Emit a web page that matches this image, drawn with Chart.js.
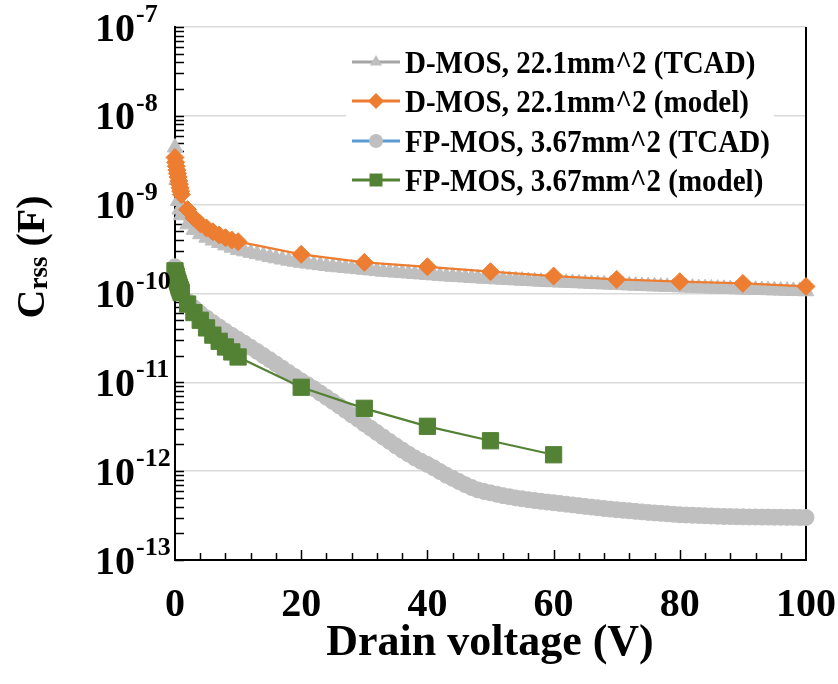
<!DOCTYPE html>
<html>
<head>
<meta charset="utf-8">
<title>Crss vs drain voltage</title>
<script src="https://cdn.jsdelivr.net/npm/chart.js@4.4.1/dist/chart.umd.min.js"></script>
<style>
  html, body { margin: 0; padding: 0; background: #fff; }
</style>
</head>
<body>
<canvas id="crssChart" width="838" height="684"></canvas>
<script>
// TCAD sweep (V)
const tcadVoltage = [0, 0.25, 0.5, 0.75, 1, 2, 3, 4, 5, 6, 7, 8, 9, 10,
  11, 12, 13, 14, 15, 16, 17, 18, 19, 20, 21, 22, 23, 24, 25, 26, 27, 28, 29, 30,
  31, 32, 33, 34, 35, 36, 37, 38, 39, 40, 41, 42, 43, 44, 45, 46, 47, 48, 49, 50,
  51, 52, 53, 54, 55, 56, 57, 58, 59, 60, 61, 62, 63, 64, 65, 66, 67, 68, 69, 70,
  71, 72, 73, 74, 75, 76, 77, 78, 79, 80, 81, 82, 83, 84, 85, 86, 87, 88, 89, 90,
  91, 92, 93, 94, 95, 96, 97, 98, 99, 100];

// D-MOS 22.1mm^2, TCAD (F)
const dmosTcad = [4.4e-9, 1.9e-9, 1.1e-9, 8.8e-10, 7.6e-10, 6.0e-10, 5.2e-10, 4.65e-10, 4.25e-10, 3.95e-10, 3.7e-10, 3.48e-10, 3.28e-10, 3.10e-10,
  2.98e-10, 2.87e-10, 2.77e-10, 2.67e-10, 2.57e-10, 2.49e-10, 2.41e-10, 2.34e-10, 2.28e-10, 2.22e-10,
  2.17e-10, 2.12e-10, 2.08e-10, 2.04e-10, 2.00e-10, 1.97e-10, 1.94e-10, 1.91e-10, 1.88e-10, 1.85e-10,
  1.82e-10, 1.79e-10, 1.76e-10, 1.74e-10, 1.72e-10, 1.70e-10, 1.68e-10, 1.66e-10, 1.64e-10, 1.62e-10,
  1.60e-10, 1.58e-10, 1.56e-10, 1.545e-10, 1.53e-10, 1.515e-10, 1.50e-10, 1.485e-10, 1.47e-10, 1.455e-10,
  1.443e-10, 1.431e-10, 1.419e-10, 1.407e-10, 1.395e-10, 1.383e-10, 1.371e-10, 1.36e-10, 1.35e-10, 1.34e-10,
  1.331e-10, 1.322e-10, 1.313e-10, 1.304e-10, 1.295e-10, 1.286e-10, 1.277e-10, 1.268e-10, 1.259e-10, 1.25e-10,
  1.242e-10, 1.234e-10, 1.226e-10, 1.218e-10, 1.21e-10, 1.203e-10, 1.196e-10, 1.189e-10, 1.182e-10, 1.175e-10,
  1.168e-10, 1.161e-10, 1.154e-10, 1.147e-10, 1.14e-10, 1.134e-10, 1.128e-10, 1.122e-10, 1.116e-10, 1.11e-10,
  1.105e-10, 1.1e-10, 1.095e-10, 1.09e-10, 1.085e-10, 1.08e-10, 1.075e-10, 1.07e-10, 1.065e-10, 1.06e-10];

// FP-MOS 3.67mm^2, TCAD (F)
const fpTcad = [2.0e-10, 1.55e-10, 1.3e-10, 1.13e-10, 1.02e-10, 8.2e-11, 6.9e-11, 6.0e-11, 5.3e-11, 4.7e-11, 4.2e-11, 3.75e-11, 3.38e-11, 3.05e-11,
  2.75e-11, 2.48e-11, 2.23e-11, 2.0e-11, 1.8e-11, 1.61e-11, 1.44e-11, 1.29e-11, 1.16e-11, 1.04e-11,
  9.4e-12, 8.5e-12, 7.6e-12, 6.8e-12, 6.1e-12, 5.45e-12, 4.85e-12, 4.3e-12, 3.85e-12, 3.42e-12,
  3.05e-12, 2.72e-12, 2.42e-12, 2.16e-12, 1.93e-12, 1.73e-12, 1.56e-12, 1.41e-12, 1.29e-12, 1.19e-12,
  1.09e-12, 9.9e-13, 9.0e-13, 8.3e-13, 7.65e-13, 7.05e-13, 6.55e-13, 6.15e-13, 5.9e-13, 5.7e-13,
  5.5e-13, 5.3e-13, 5.15e-13, 5.0e-13, 4.88e-13, 4.77e-13, 4.67e-13, 4.58e-13, 4.49e-13, 4.41e-13,
  4.33e-13, 4.25e-13, 4.17e-13, 4.09e-13, 4.01e-13, 3.94e-13, 3.87e-13, 3.8e-13, 3.74e-13, 3.68e-13,
  3.63e-13, 3.58e-13, 3.53e-13, 3.48e-13, 3.43e-13, 3.39e-13, 3.35e-13, 3.31e-13, 3.27e-13, 3.23e-13,
  3.21e-13, 3.19e-13, 3.17e-13, 3.15e-13, 3.13e-13, 3.11e-13, 3.09e-13, 3.08e-13, 3.07e-13, 3.06e-13,
  3.05e-13, 3.05e-13, 3.04e-13, 3.04e-13, 3.03e-13, 3.03e-13, 3.02e-13, 3.02e-13, 3.01e-13, 3.01e-13];

// model points (V)
const dmosModelVoltage = [0, 0.1, 0.2, 0.3, 0.4, 0.5, 0.6, 0.7, 0.8, 0.9, 1, 2, 3, 4, 5, 6, 7, 8, 9, 10,
  20, 30, 40, 50, 60, 70, 80, 90, 100];
const dmosModel = [3.4e-9, 3.0e-9, 2.7e-9, 2.45e-9, 2.25e-9, 2.05e-9, 1.85e-9, 1.7e-9, 1.55e-9, 1.42e-9, 1.3e-9,
  8.8e-10, 7.1e-10, 6.1e-10, 5.45e-10, 4.95e-10, 4.55e-10, 4.25e-10, 4.0e-10, 3.83e-10,
  2.76e-10, 2.24e-10, 2.0e-10, 1.76e-10, 1.57e-10, 1.44e-10, 1.36e-10, 1.30e-10, 1.20e-10];

const fpModelVoltage = [0, 0.1, 0.2, 0.3, 0.4, 0.5, 0.6, 0.7, 0.8, 0.9, 1, 2, 3, 4, 5, 6, 7, 8, 9, 10,
  20, 30, 40, 50, 60];
const fpModel = [1.8e-10, 1.65e-10, 1.55e-10, 1.45e-10, 1.37e-10, 1.3e-10, 1.23e-10, 1.17e-10, 1.12e-10, 1.07e-10, 1.02e-10,
  7.6e-11, 6.1e-11, 5.0e-11, 4.1e-11, 3.4e-11, 2.9e-11, 2.5e-11, 2.2e-11, 1.93e-11,
  8.8e-12, 5.1e-12, 3.2e-12, 2.2e-12, 1.53e-12];

const seriesNames = ['D-MOS, 22.1mm^2 (TCAD)', 'D-MOS, 22.1mm^2 (model)', 'FP-MOS, 3.67mm^2 (TCAD)', 'FP-MOS, 3.67mm^2 (model)'];
const xTickLabels = [0, 20, 40, 60, 80, 100];
const yExponents = [-7, -8, -9, -10, -11, -12, -13];

const FONT = '"Liberation Serif", "Times New Roman", serif';

function pts(xs, ys) {
  return xs.map((x, i) => ({ x: x, y: ys[i] }));
}

const datasets = [
  {
    label: seriesNames[0], data: pts(tcadVoltage, dmosTcad), order: 4,
    borderColor: '#A5A5A5', borderWidth: 2.25, backgroundColor: '#BFBFBF',
    pointStyle: 'triangle', pointRadius: 9, pointBackgroundColor: '#BFBFBF', pointBorderColor: '#BFBFBF', pointBorderWidth: 1,
    legendMarker: 'triangle', legendFill: '#BFBFBF'
  },
  {
    label: seriesNames[1], data: pts(dmosModelVoltage, dmosModel), order: 3,
    borderColor: '#ED7D31', borderWidth: 2.25, backgroundColor: '#ED7D31',
    pointStyle: 'rectRot', pointRadius: 9, pointBackgroundColor: '#ED7D31', pointBorderColor: '#ED7D31', pointBorderWidth: 1,
    legendMarker: 'diamond', legendFill: '#ED7D31'
  },
  {
    label: seriesNames[2], data: pts(tcadVoltage, fpTcad), order: 2,
    borderColor: '#5B9BD5', borderWidth: 2.25, backgroundColor: '#BFBFBF',
    pointStyle: 'circle', pointRadius: 8, pointBackgroundColor: '#BFBFBF', pointBorderColor: '#BFBFBF', pointBorderWidth: 1,
    legendMarker: 'circle', legendFill: '#BFBFBF'
  },
  {
    label: seriesNames[3], data: pts(fpModelVoltage, fpModel), order: 1,
    borderColor: '#548235', borderWidth: 2.25, backgroundColor: '#548235',
    pointStyle: 'rect', pointRadius: 11.5, pointBackgroundColor: '#548235', pointBorderColor: '#548235', pointBorderWidth: 1,
    legendMarker: 'square', legendFill: '#548235'
  }
];

function isDecade(v) {
  const l = Math.log10(v);
  return Math.abs(l - Math.round(l)) < 1e-6;
}

function drawMarker(ctx, type, x, y, s, color) {
  ctx.save();
  ctx.fillStyle = color;
  ctx.beginPath();
  if (type === 'triangle') {
    ctx.moveTo(x, y - s);
    ctx.lineTo(x + s * 0.866, y + s * 0.5);
    ctx.lineTo(x - s * 0.866, y + s * 0.5);
  } else if (type === 'diamond') {
    ctx.moveTo(x, y - s); ctx.lineTo(x + s, y); ctx.lineTo(x, y + s); ctx.lineTo(x - s, y);
  } else if (type === 'circle') {
    ctx.arc(x, y, s, 0, Math.PI * 2);
  } else {
    ctx.rect(x - s, y - s, 2 * s, 2 * s);
  }
  ctx.closePath();
  ctx.fill();
  ctx.restore();
}

// text slightly stretched vertically, like the source picture
function stretchedText(ctx, text, x, y, sy) {
  ctx.save();
  ctx.translate(x, y);
  ctx.scale(1, sy);
  ctx.fillText(text, 0, 0);
  ctx.restore();
}

const decorPlugin = {
  id: 'decor',
  beforeDatasetsDraw(chart) {
    const ctx = chart.ctx;
    const a = chart.chartArea;
    const xs = chart.scales.x, ys = chart.scales.y;
    ctx.save();
    ctx.strokeStyle = '#000';
    ctx.lineWidth = 1.5;
    // y minor/major ticks, inside
    for (let e = -13; e < -7; e++) {
      for (let m = 1; m <= 9; m++) {
        const py = Math.round(ys.getPixelForValue(m * Math.pow(10, e))) + 0.5;
        ctx.beginPath();
        ctx.moveTo(a.left, py);
        ctx.lineTo(a.left + 9, py);
        ctx.stroke();
      }
    }
    const ptop = Math.round(ys.getPixelForValue(1e-7)) + 0.5;
    ctx.beginPath(); ctx.moveTo(a.left, ptop); ctx.lineTo(a.left + 9, ptop); ctx.stroke();
    // x ticks every 4 V, inside
    for (let v = 4; v < 100; v += 4) {
      const px = Math.round(xs.getPixelForValue(v)) + 0.5;
      const len = (v % 20 === 0) ? 10 : 7;
      ctx.beginPath();
      ctx.moveTo(px, a.bottom);
      ctx.lineTo(px, a.bottom - len);
      ctx.stroke();
    }
    // right frame line
    ctx.lineWidth = 2;
    ctx.beginPath();
    ctx.moveTo(a.right, a.top);
    ctx.lineTo(a.right, a.bottom);
    ctx.stroke();
    ctx.restore();
  },
  afterDraw(chart) {
    const ctx = chart.ctx;
    const xs = chart.scales.x, ys = chart.scales.y;
    ctx.save();
    ctx.fillStyle = '#000';
    ctx.textBaseline = 'alphabetic';

    // y tick labels 10^e
    yExponents.forEach(e => {
      const py = ys.getPixelForValue(Math.pow(10, e));
      ctx.font = 'bold 40px ' + FONT;
      ctx.textAlign = 'left';
      ctx.fillText('10', 95, py + 13.5);
      const w = ctx.measureText('10').width;
      ctx.font = 'bold 26px ' + FONT;
      ctx.fillText(String(e), 95 + w + 1, py - 5);
    });

    // x tick labels
    ctx.font = 'bold 40px ' + FONT;
    ctx.textAlign = 'center';
    xTickLabels.forEach(v => {
      ctx.fillText(String(v), xs.getPixelForValue(v), 616);
    });

    // x title
    ctx.font = 'bold 44px ' + FONT;
    ctx.fillText('Drain voltage (V)', 490, 655);

    // y title: C rss (F)
    ctx.save();
    ctx.translate(44, 257);
    ctx.rotate(-Math.PI / 2);
    ctx.textAlign = 'left';
    ctx.font = 'bold 40px ' + FONT;
    const wC = ctx.measureText('C').width;
    const wF = ctx.measureText(' (F)').width;
    ctx.font = 'bold 27px ' + FONT;
    const wR = ctx.measureText('rss').width;
    const x0 = -(wC + wR + wF) / 2;
    ctx.font = 'bold 40px ' + FONT;
    ctx.fillText('C', x0, 0);
    ctx.font = 'bold 27px ' + FONT;
    ctx.fillText('rss', x0 + wC, 3);
    ctx.font = 'bold 40px ' + FONT;
    ctx.fillText(' (F)', x0 + wC + wR, 0);
    ctx.restore();

    // legend
    ctx.fillStyle = '#fff';
    ctx.fillRect(346, 43, 428, 157);
    const rowY = [62, 101, 141, 180];
    chart.data.datasets.forEach((ds, i) => {
      const y = rowY[i];
      ctx.strokeStyle = ds.borderColor;
      ctx.lineWidth = 3;
      ctx.beginPath();
      ctx.moveTo(352, y);
      ctx.lineTo(400, y);
      ctx.stroke();
      const size = ds.legendMarker === 'square' ? 6.5 : (ds.legendMarker === 'diamond' ? 8 : 7);
      drawMarker(ctx, ds.legendMarker, 376, y, size, ds.legendFill);
      ctx.fillStyle = '#000';
      ctx.font = 'bold 29px ' + FONT;
      ctx.textAlign = 'left';
      ctx.textBaseline = 'alphabetic';
      stretchedText(ctx, ds.label, 405, y + 11, 1.1);
    });
    ctx.restore();
  }
};

const chart = new Chart(document.getElementById('crssChart'), {
  type: 'line',
  data: { datasets: datasets },
  options: {
    responsive: false,
    animation: false,
    devicePixelRatio: 1,
    layout: { padding: { left: 175, right: 32, top: 27, bottom: 124 } },
    elements: { line: { tension: 0 } },
    datasets: { line: { clip: false } },
    plugins: { legend: { display: false }, tooltip: { enabled: false } },
    scales: {
      x: {
        type: 'linear', min: 0, max: 100,
        ticks: { display: false },
        grid: { display: false, drawTicks: false },
        border: { color: '#000', width: 2 }
      },
      y: {
        type: 'logarithmic', min: 1e-13, max: 1e-7,
        ticks: { display: false },
        grid: {
          drawTicks: false,
          lineWidth: 1.5,
          color: c => (c.tick && isDecade(c.tick.value)) ? '#D9D9D9' : 'rgba(0,0,0,0)'
        },
        border: { color: '#000', width: 2 }
      }
    }
  },
  plugins: [decorPlugin]
});
</script>
</body>
</html>
